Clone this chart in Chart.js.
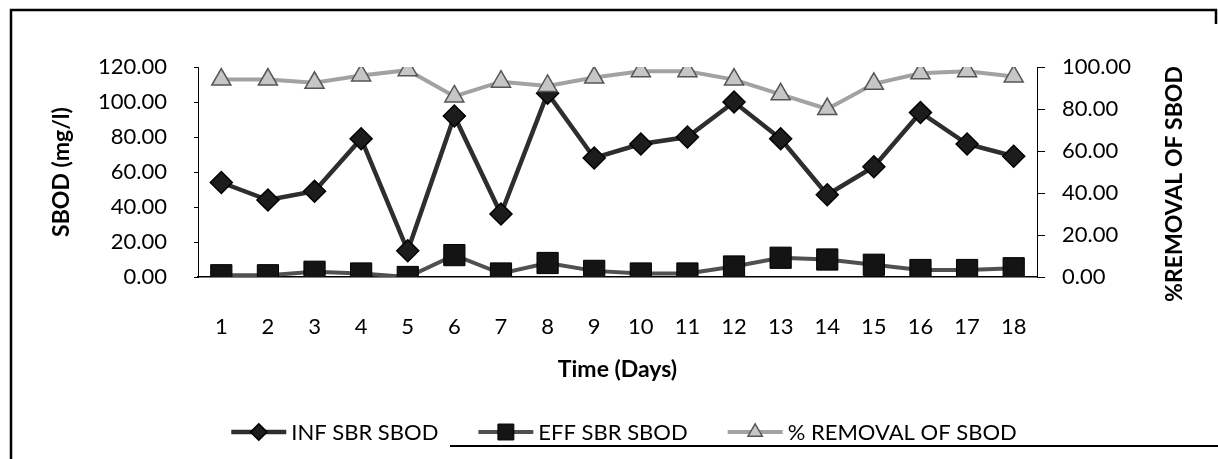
<!DOCTYPE html>
<html>
<head>
<meta charset="utf-8">
<title>SBOD</title>
<script src="https://cdn.jsdelivr.net/npm/chart.js@4.4.1/dist/chart.umd.min.js"></script>
<style>
  html, body { margin: 0; padding: 0; background: #fff; }
  canvas { display: block; }
</style>
</head>
<body>
<canvas id="myChart" width="1218" height="459"></canvas>
<script>
// days on the x axis
const days = ['1','2','3','4','5','6','7','8','9','10','11','12','13','14','15','16','17','18'];

// influent / effluent SBOD in mg/l (left axis)
const infSbod = [54, 44, 49, 79, 15, 92, 36, 105, 68, 76, 80, 100, 79, 47, 63, 94, 76, 69];
const effSbod = [1, 1, 3, 2, 0, 12.5, 2, 8, 3.5, 2, 2, 6, 11, 10, 7, 4, 4, 5];

// removal in % (right axis)
const removal = [94, 94, 92.5, 96, 98.5, 86, 93, 91, 95, 98, 98, 94, 87, 80, 92, 97, 98, 95.5];

// axis ranges
const leftMax = 120;
const rightMax = 100;
const tickStep = 20;

const FONT = 'Lato';

// page frame, right axis title and the legend under the chart
const decorations = {
  id: 'decorations',
  beforeDraw(chart) {
    const ctx = chart.ctx;
    ctx.save();
    ctx.fillStyle = '#fff';
    ctx.fillRect(0, 0, chart.width, chart.height);
    ctx.restore();
  },
  afterDraw(chart) {
    const ctx = chart.ctx;
    ctx.save();

    // frame
    ctx.strokeStyle = '#000';
    ctx.lineWidth = 2.5;
    ctx.beginPath();
    ctx.moveTo(11, chart.height);
    ctx.lineTo(11, 10);
    ctx.lineTo(1216, 10);
    ctx.lineTo(1216, 24);
    ctx.stroke();
    ctx.lineWidth = 2;
    ctx.beginPath();
    ctx.moveTo(450, 446);
    ctx.lineTo(1218, 446);
    ctx.stroke();

    // right axis title, reads bottom to top
    ctx.translate(1175, 184);
    ctx.rotate(-Math.PI / 2);
    ctx.fillStyle = '#000';
    ctx.font = 'bold 23px ' + FONT;
    ctx.textAlign = 'center';
    ctx.textBaseline = 'middle';
    ctx.fillText('%REMOVAL OF SBOD', 0, 0);
    ctx.setTransform(1, 0, 0, 1, 0, 0);

    // legend: short line with the marker in the middle, then the label
    ctx.font = '22px ' + FONT;
    ctx.textAlign = 'left';
    const symW = 55, gap = 5, spacing = 40, y = 432;
    const items = chart.data.datasets;
    const widths = items.map(ds => symW + gap + ctx.measureText(ds.label).width);
    const total = widths.reduce((a, b) => a + b, 0) + spacing * (items.length - 1);
    let x = 624 - total / 2;
    items.forEach((ds, i) => {
      ctx.strokeStyle = ds.borderColor;
      ctx.lineWidth = ds.borderWidth;
      ctx.beginPath();
      ctx.moveTo(x, y);
      ctx.lineTo(x + symW, y);
      ctx.stroke();
      ctx.fillStyle = ds.pointBackgroundColor;
      ctx.strokeStyle = ds.pointBorderColor;
      ctx.lineWidth = ds.pointBorderWidth;
      Chart.helpers.drawPoint(ctx, {
        pointStyle: ds.pointStyle,
        radius: ds.pointRadius * 0.75,
        rotation: 0,
        borderWidth: ds.pointBorderWidth
      }, x + symW / 2, y);
      ctx.fillStyle = '#000';
      ctx.fillText(ds.label, x + symW + gap, y + 1);
      x += widths[i] + spacing;
    });

    ctx.restore();
  }
};

const ctx = document.getElementById('myChart');
new Chart(ctx, {
  type: 'line',
  data: {
    labels: days,
    datasets: [
      {
        label: 'INF SBR SBOD',
        data: infSbod,
        yAxisID: 'y',
        borderColor: '#2e2e2e',
        borderWidth: 4.5,
        pointStyle: 'rectRot',
        pointRadius: 11,
        pointBackgroundColor: '#1c1c1c',
        pointBorderColor: '#000',
        pointBorderWidth: 1.5,
        order: 2
      },
      {
        label: 'EFF SBR SBOD',
        data: effSbod,
        yAxisID: 'y',
        borderColor: '#505050',
        borderWidth: 4,
        pointStyle: 'rect',
        pointRadius: 15,
        pointBackgroundColor: '#141414',
        pointBorderColor: '#000',
        pointBorderWidth: 1,
        order: 3
      },
      {
        label: '% REMOVAL OF SBOD',
        data: removal,
        yAxisID: 'y1',
        borderColor: '#a2a2a2',
        borderWidth: 4,
        pointStyle: 'triangle',
        pointRadius: 11,
        pointBackgroundColor: '#c6c6c6',
        pointBorderColor: '#555',
        pointBorderWidth: 1.5,
        order: 1
      }
    ]
  },
  options: {
    responsive: false,
    animation: false,
    devicePixelRatio: 1,
    layout: { padding: { left: 40, right: 0, top: 67, bottom: 70 } },
    plugins: {
      legend: { display: false },
      tooltip: { enabled: false }
    },
    elements: { line: { tension: 0 } },
    scales: {
      x: {
        offset: true,
        grid: { display: false, offset: true },
        border: { display: true, color: '#000', width: 1.5 },
        ticks: { color: '#000', font: { family: FONT, size: 22 }, padding: 29, maxRotation: 0 },
        title: {
          display: true,
          text: 'Time (Days)',
          color: '#000',
          font: { family: FONT, size: 23, weight: 'bold' },
          padding: { top: 0, bottom: 6 }
        },
        afterFit(scale) { scale.height = 112; }
      },
      y: {
        position: 'left',
        min: 0,
        max: leftMax,
        grid: { display: true, drawOnChartArea: false, drawTicks: true, tickLength: 4, color: '#000' },
        border: { display: true, color: '#000', width: 1 },
        ticks: {
          stepSize: tickStep,
          color: '#000',
          font: { family: FONT, size: 22 },
          padding: 27,
          callback: v => v.toFixed(2)
        },
        title: {
          display: true,
          text: 'SBOD (mg/l)',
          color: '#000',
          font: { family: FONT, size: 23, weight: 'bold' },
          padding: { top: 8, bottom: 0 }
        },
        afterFit(scale) { scale.width = 158; }
      },
      y1: {
        position: 'right',
        min: 0,
        max: rightMax,
        grid: { display: true, drawOnChartArea: false, drawTicks: true, tickLength: 8, color: '#000' },
        border: { display: true, color: '#000', width: 1 },
        ticks: {
          stepSize: tickStep,
          color: '#000',
          font: { family: FONT, size: 22 },
          padding: 17,
          callback: v => v.toFixed(2)
        },
        afterFit(scale) { scale.width = 181; }
      }
    }
  },
  plugins: [decorations]
});
</script>
</body>
</html>
